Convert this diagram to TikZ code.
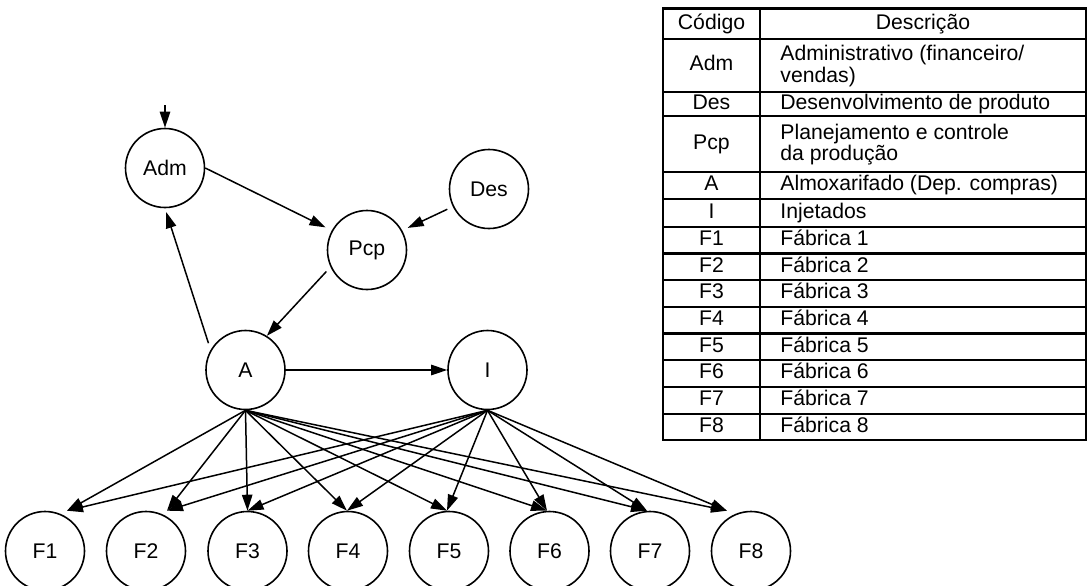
\documentclass[tikz,border=0pt]{standalone}
\usepackage{fontspec}
\setmainfont{Liberation Sans}
\usetikzlibrary{arrows.meta}

\begin{document}
\begin{tikzpicture}[>={Triangle[length=8pt,width=5.2pt]}, font=\fontsize{10.6}{8.7}\selectfont, x=0.5pt, y=-0.5pt]
        \tikzset{sector/.style={draw, circle, line width=0.8pt, minimum size=39.5pt, inner sep=0pt},
                 flow/.style={->, line width=0.75pt},
                 grid/.style={line width=1.1pt},
                 cell/.style={inner sep=0pt, text height=7.6pt, text depth=2.2pt},
                 desc/.style={anchor=west, align=left, inner sep=0pt}}
        \useasboundingbox (0,0) rectangle (1088,585);

        % sectors
        \node[sector] (Adm) at (165,168) {Adm};
        \node[sector] (Des) at (489,189) {Des};
        \node[sector] (Pcp) at (367,250) {Pcp};
        \node[sector] (A) at (245.5,370) {A};
        \node[sector] (I) at (487.5,370) {I};
        \foreach \i/\x in {1/45,2/146,3/247.5,4/348,5/449,6/549.5,7/650,8/751}
            \node[sector] (F\i) at (\x,551) {F\i};

        \coordinate (in) at (165,105);
        \draw[flow] (in) -- (Adm);
        \draw[flow, shorten >=3.5pt] (Adm.east) -- (Pcp.151);
        \draw[flow, shorten <=3pt, shorten >=3pt] (Des.206) -- (Pcp.29);
        \draw[flow, shorten <=3pt] (Pcp.205) -- (A.58);
        \draw[flow, shorten <=3.5pt, shorten >=2pt] (A.150) -- (Adm.270);
        \draw[flow] (A) -- (I);
        \foreach \i/\dx in {1/11pt,2/10.5pt,3/0pt,4/-0.5pt,5/-1pt,6/-1.25pt,7/-1.5pt,8/-12pt} {
            \draw[flow] (A.south) -- ([xshift=\dx]F\i.north);
            \draw[flow] (I.south) -- ([xshift=\dx]F\i.north);
        }

        % table of codes
        \draw[grid] (663,8.5) rectangle (1086,440.3);
        \draw[grid] (760,8.5) -- (760,440.3);
        \foreach \y in {38.7,92,116,171.7,199.2,226.7,253.4,280.1,306.8,333.5,360.2,386.9,413.6}
            \draw[grid] (663,\y) -- (1086,\y);

        \node[cell] (hcod) at (711.5,23.6) {Código};
        \node[cell] (hdesc) at (923,23.6) {Descrição};
        \node[cell] (cAdm) at (711.5,65.3) {Adm};
        \node[desc] (dAdm) at (780,66) {Administrativo (financeiro/\\vendas)};
        \node[cell] (cDes) at (711.5,104) {Des};
        \node[desc] (dDes) at (780,104) {Desenvolvimento de produto};
        \node[cell] (cPcp) at (711.5,143.8) {Pcp};
        \node[desc] (dPcp) at (780,144.5) {Planejamento e controle\\da produção};
        \node[cell] (cA) at (711.5,185.5) {A};
        \node[desc] (dA) at (780,185.5) {Almoxarifado (Dep. compras)};
        \node[cell] (cI) at (711.5,213) {I};
        \node[desc] (dI) at (780,213) {Injetados};
        \foreach \k in {1,...,8} {
            \pgfmathsetmacro\yrow{226.7+(\k-0.5)*26.7}
            \node[cell] (cF\k) at (711.5,\yrow) {F\k};
            \node[cell, anchor=west] (dF\k) at (780,\yrow) {Fábrica \k};
        }
    \end{tikzpicture}
\end{document}
